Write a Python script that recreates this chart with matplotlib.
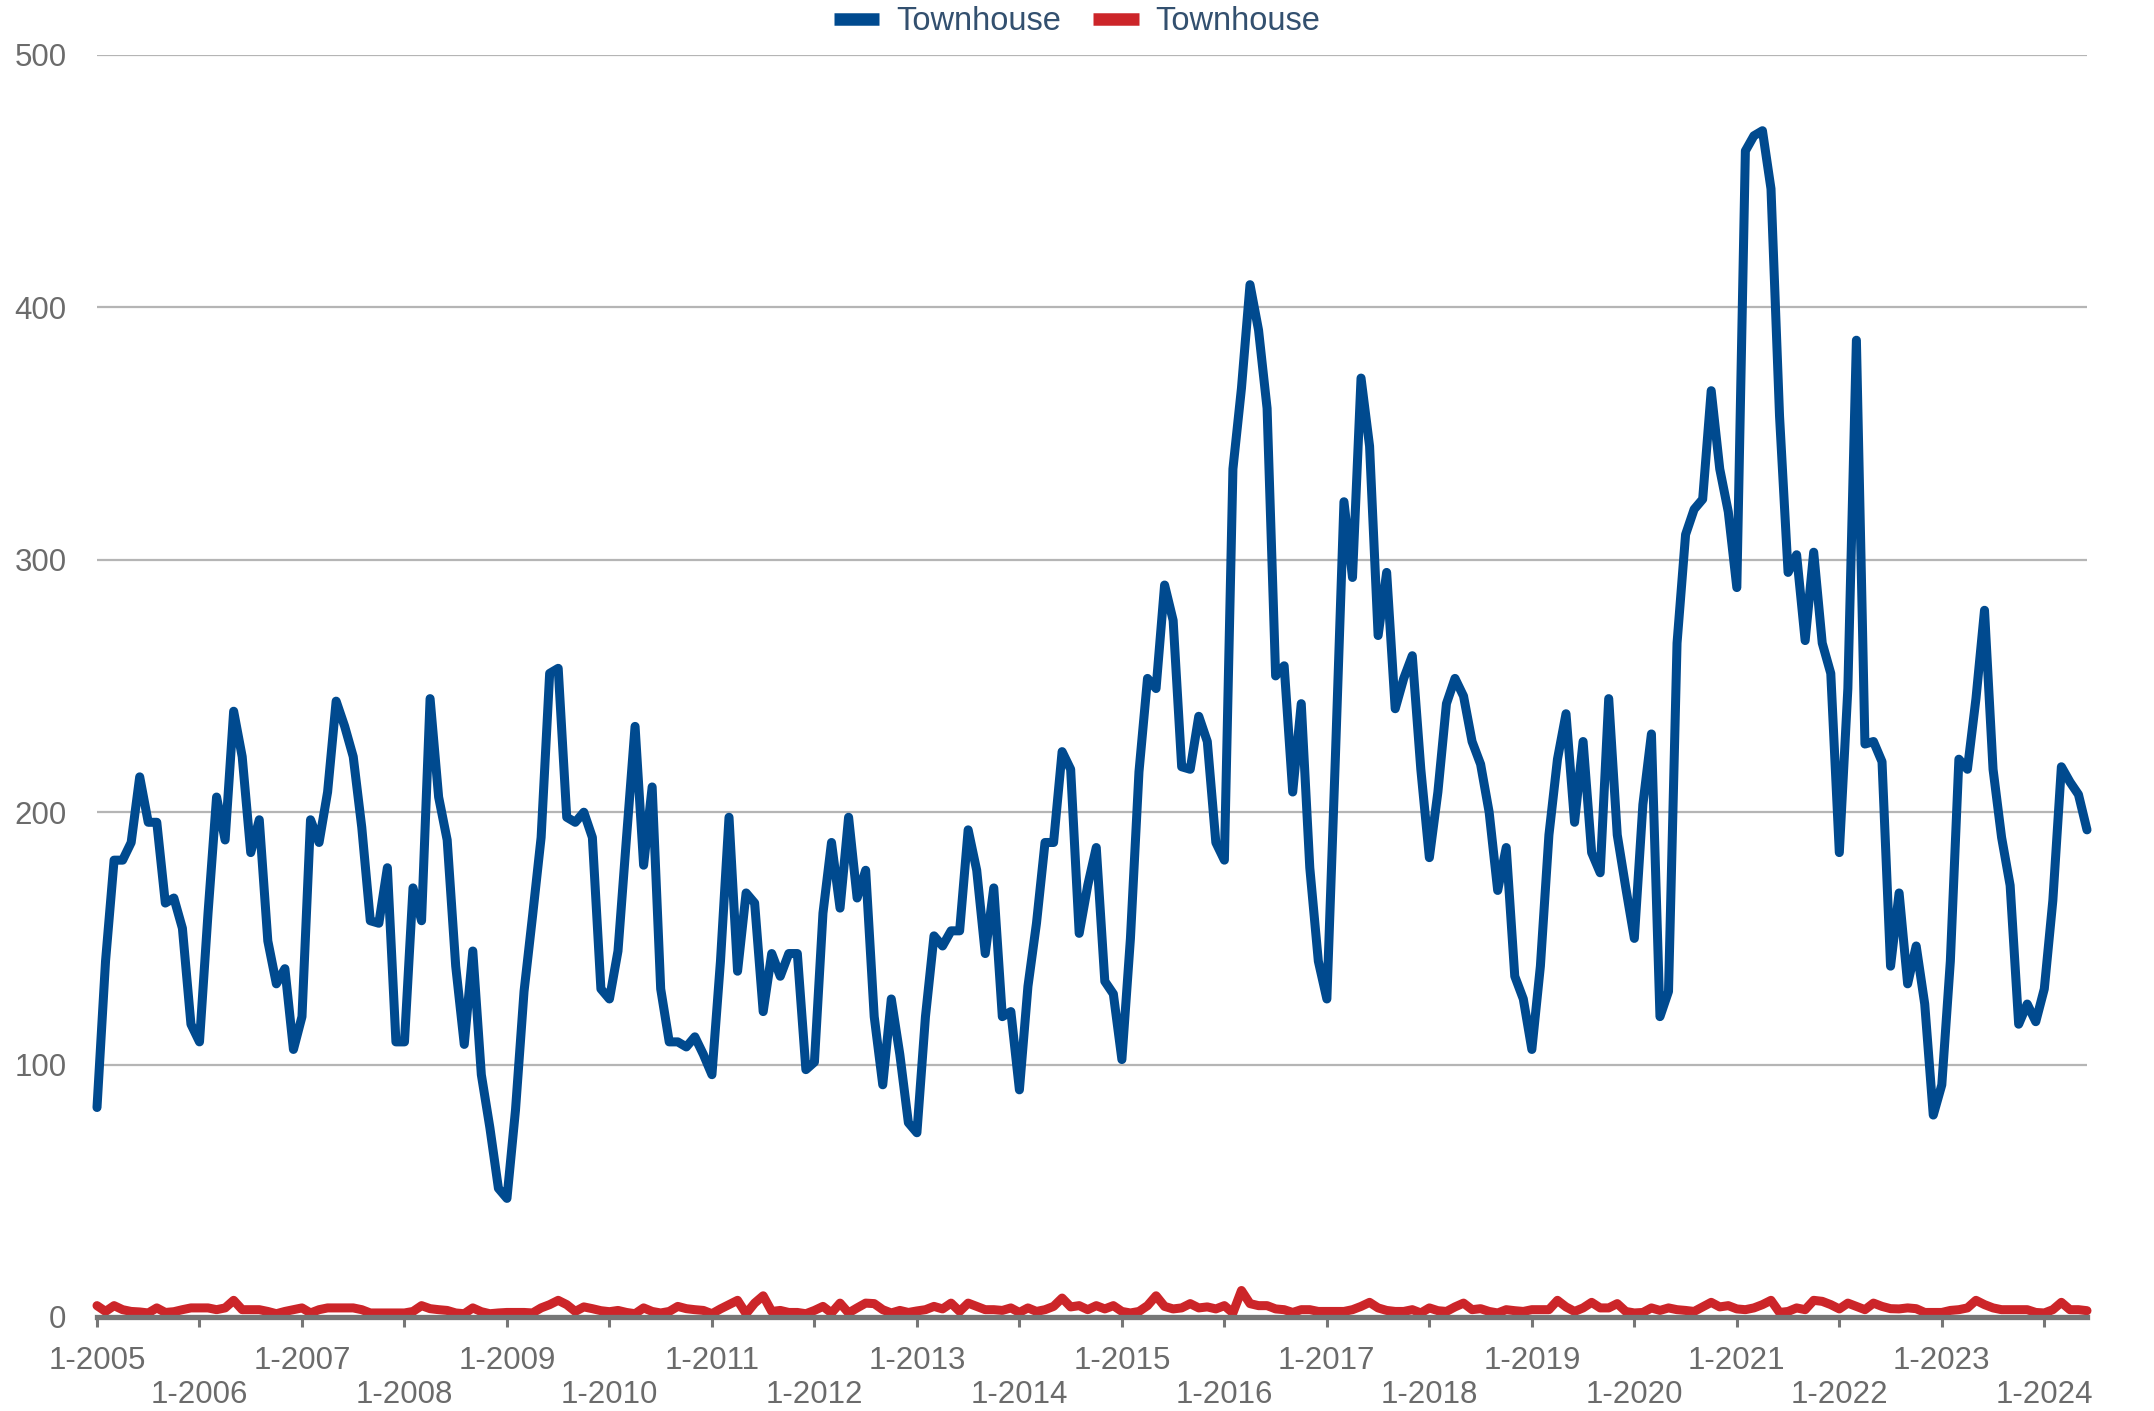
import matplotlib
matplotlib.use("Agg")
import matplotlib.pyplot as plt
from matplotlib.lines import Line2D

years = list(range(2005, 2025))
tick_labels = [f"1-{y}" for y in years]

series_names = ["Townhouse", "Townhouse"]

blue_values = [
    83, 141, 181, 181, 188, 214, 196, 196, 164, 166, 154, 116,
    109, 160, 206, 189, 240, 222, 184, 197, 149, 132, 138, 106,
    119, 197, 188, 208, 244, 234, 222, 194, 157, 156, 178, 109,
    109, 170, 157, 245, 206, 189, 139, 108, 145, 96, 75, 51,
    47, 82, 129, 159, 190, 255, 257, 198, 196, 200, 190, 130,
    126, 145, 190, 234, 179, 210, 130, 109, 109, 107, 111, 104,
    96, 141, 198, 137, 168, 164, 121, 144, 135, 144, 144, 98,
    101, 160, 188, 162, 198, 166, 177, 119, 92, 126, 104, 77,
    73, 119, 151, 147, 153, 153, 193, 177, 144, 170, 119, 121,
    90, 131, 156, 188, 188, 224, 217, 152, 171, 186, 133, 128,
    102, 150, 216, 253, 249, 290, 276, 218, 217, 238, 228, 188,
    181, 336, 368, 409, 391, 360, 254, 258, 208, 243, 178, 141,
    126, 222, 323, 293, 372, 345, 270, 295, 241, 253, 262, 217,
    182, 208, 243, 253, 246, 228, 219, 200, 169, 186, 135, 126,
    106, 139, 191, 221, 239, 196, 228, 184, 176, 245, 191, 170,
    150, 203, 231, 119, 129, 267, 310, 320, 324, 367, 336, 319,
    289, 462, 468, 470, 447, 357, 295, 302, 268, 303, 267, 255,
    184, 249, 387, 227, 228, 220, 139, 168, 132, 147, 124, 80,
    92, 141, 221, 217, 245, 280, 217, 190, 171, 116, 124, 117,
    130, 165, 218, 212, 207, 193,
]

red_values = [
    4.5, 2.2, 4.5, 2.9, 2.2, 2.0, 1.6, 3.6, 1.8, 2.1, 2.9, 3.6,
    3.6, 3.6, 2.9, 3.6, 6.6, 2.9, 2.9, 2.9, 2.2, 1.3, 2.2, 2.9,
    3.6, 1.6, 2.9, 3.6, 3.6, 3.6, 3.6, 2.9, 1.6, 1.6, 1.6, 1.6,
    1.6, 2.2, 4.5, 3.3, 2.9, 2.6, 1.6, 1.3, 3.6, 2.1, 1.3, 1.6,
    1.8, 1.8, 1.8, 1.6, 3.6, 4.9, 6.6, 4.9, 2.2, 4.0, 3.3, 2.5,
    2.1, 2.6, 1.8, 1.3, 3.6, 2.2, 1.6, 2.2, 4.2, 3.3, 2.9, 2.6,
    1.3, 3.2, 4.9, 6.6, 1.3, 5.5, 8.4, 2.2, 2.6, 1.8, 1.8, 1.3,
    2.6, 4.2, 1.6, 5.5, 1.6, 3.6, 5.5, 5.3, 2.9, 1.6, 2.6, 1.8,
    2.4, 2.9, 4.2, 3.2, 5.5, 2.2, 5.5, 4.2, 2.9, 2.9, 2.6, 3.6,
    1.8, 3.6, 2.2, 2.9, 4.2, 7.5, 4.0, 4.5, 2.9, 4.5, 3.2, 4.5,
    2.2, 1.6, 2.2, 4.5, 8.4, 4.2, 3.2, 3.6, 5.3, 3.6, 4.0, 3.2,
    4.5, 1.6, 10.5, 5.3, 4.5, 4.5, 3.2, 2.9, 1.8, 2.9, 2.9, 2.2,
    2.2, 2.2, 2.2, 2.9, 4.2, 5.8, 3.6, 2.6, 2.2, 2.2, 2.9, 1.6,
    3.6, 2.5, 2.2, 4.0, 5.5, 2.9, 3.3, 2.2, 1.6, 2.9, 2.5, 2.2,
    2.9, 2.9, 2.9, 6.6, 4.0, 2.2, 3.6, 5.8, 3.6, 3.6, 5.3, 2.2,
    1.6, 1.8, 3.6, 2.6, 3.6, 2.9, 2.6, 2.2, 4.0, 5.8, 4.0, 4.5,
    3.2, 2.9, 3.6, 4.9, 6.6, 1.8, 2.2, 3.6, 2.9, 6.6, 6.2, 4.9,
    3.2, 5.5, 4.2, 2.9, 5.5, 4.2, 3.3, 3.2, 3.6, 3.3, 1.8, 1.8,
    1.8, 2.6, 2.9, 3.6, 6.6, 4.9, 3.6, 2.9, 2.9, 2.9, 2.9, 1.8,
    1.6, 2.9, 5.8, 2.9, 2.9, 2.5,
]

y_ticks = [0, 100, 200, 300, 400, 500]

BLUE = "#004a8f"
RED = "#cc2529"
GRID = "#b5b5b5"
AXIS = "#777777"
LABEL = "#6b6b6b"
LEGEND_TXT = "#33506f"

plt.rcParams["font.family"] = ["Liberation Sans", "DejaVu Sans"]

fig = plt.figure(figsize=(21.54, 14.11), dpi=100)
ax = fig.add_axes([97 / 2154, 1 - 1317 / 1411, (2087 - 97) / 2154, (1317 - 55) / 1411])

months = list(range(len(blue_values)))
ax.plot(months, red_values, color=RED, lw=6.5, solid_joinstyle="round",
        solid_capstyle="round", clip_on=False, zorder=3)
ax.plot(months, blue_values, color=BLUE, lw=6.5, solid_joinstyle="round",
        solid_capstyle="round", clip_on=False, zorder=4)

ax.set_xlim(0, len(blue_values) - 1)
ax.set_ylim(0, 500)

ax.set_yticks(y_ticks)
ax.set_yticklabels([str(v) for v in y_ticks])
ax.yaxis.grid(True, color=GRID, lw=1.6)
ax.set_axisbelow(True)
ax.tick_params(axis="y", length=0, pad=22, labelsize=22.5, labelcolor=LABEL)

xt = [12 * k for k in range(len(years))]
ax.set_xticks(xt)
ax.set_xticklabels([lab if k % 2 == 0 else "\n" + lab for k, lab in enumerate(tick_labels)])
ax.tick_params(axis="x", direction="out", length=7, width=2.2, color=AXIS,
               pad=14, labelsize=22.5, labelcolor=LABEL)
for lbl in ax.get_xticklabels():
    lbl.set_linespacing(1.15)

for s in ["top", "right", "left"]:
    ax.spines[s].set_visible(False)
ax.spines["bottom"].set_color(AXIS)
ax.spines["bottom"].set_linewidth(3.8)
ax.spines["bottom"].set_zorder(5)

handles = [Line2D([0], [0], color=BLUE, lw=9, solid_capstyle="butt"),
           Line2D([0], [0], color=RED, lw=9, solid_capstyle="butt")]
leg = fig.legend(handles, series_names, loc="center", bbox_to_anchor=(0.5, 1 - 22 / 1411),
                 ncol=2, frameon=False, fontsize=23.5, handlelength=1.4,
                 handletextpad=0.5, columnspacing=1.0)
for t in leg.get_texts():
    t.set_color(LEGEND_TXT)

fig.savefig("out.png", dpi=100)
